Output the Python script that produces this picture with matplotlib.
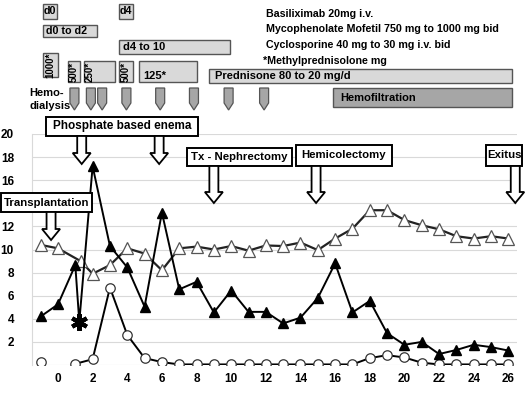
import numpy as np
import matplotlib
matplotlib.use("Agg")
import matplotlib.pyplot as plt
from matplotlib.patches import Polygon, Rectangle
from matplotlib.transforms import Affine2D

plt.rcParams['font.family'] = ['Liberation Sans', 'DejaVu Sans']
plt.rcParams['font.weight'] = 'bold'

W, H = 532, 393

# filled triangles (the asterisk sample sits between day 1 and day 2)
tri_x = [-1, 0, 1, 1.23, 2, 3, 4, 5, 6, 7, 8, 9, 10, 11, 12, 13, 14, 15, 16,
         17, 18, 19, 20, 21, 22, 23, 24, 25, 26]
tri_y = [4.2, 5.25, 8.65, 3.75, 17.2, 10.3, 8.45, 5.05, 13.2, 6.55, 7.2, 4.55,
         6.45, 4.6, 4.6, 3.6, 4.1, 5.8, 8.8, 4.55, 5.55, 2.75, 1.75, 2.0, 0.95,
         1.3, 1.75, 1.55, 1.25]
star_idx = 3

# open triangles
otri_x = [-1, 0, 1.3, 2, 3, 4, 5, 6, 7, 8, 9, 10, 11, 12, 13, 14, 15, 16, 17,
          18, 19, 20, 21, 22, 23, 24, 25, 26]
otri_y = [10.4, 10.1, 9.0, 7.9, 8.65, 10.1, 9.65, 8.2, 10.1, 10.25, 10.0, 10.3,
          9.9, 10.35, 10.3, 10.6, 9.95, 10.95, 11.8, 13.4, 13.4, 12.55, 12.1,
          11.75, 11.15, 10.95, 11.15, 10.95]

# open circles
circ_x = list(range(-1, 27))
circ_y = [0.3, np.nan, 0.1, 0.5, 6.7, 2.6, 0.6, 0.25, 0.05, 0.05, 0.05, 0.05,
          0.05, 0.05, 0.05, 0.05, 0.05, 0.05, 0.05, 0.6, 0.85, 0.65, 0.2, 0.05,
          0.05, 0.05, 0.05, 0.05]

xticks = list(range(0, 27, 2))
yticks = list(range(0, 21, 2))
hidden_yticks = [0, 14]   # 14 sits behind the "Transplantation" label

hd_days = [0.95, 1.9, 2.55, 3.95, 5.9, 7.85, 9.85, 11.9]

drug_lines = ["Basiliximab 20mg i.v.",
              "Mycophenolate Mofetil 750 mg to 1000 mg bid",
              "Cyclosporine 40 mg to 30 mg i.v. bid"]

fig = plt.figure(figsize=(W / 100, H / 100), dpi=100)
ax = fig.add_axes([32 / W, (H - 365) / H, (517 - 32) / W, (365 - 134) / H])

ax.plot(circ_x, circ_y, color='black', lw=1.4, marker='o', ms=6.8,
        mfc='white', mec='#333333', mew=0.9, zorder=3)
ax.plot(otri_x, otri_y, color='#222222', lw=1.6, marker='^', ms=8.5,
        mfc='white', mec='#555555', mew=0.9, zorder=4)
ax.plot(tri_x, tri_y, color='black', lw=1.4, zorder=5)
mx = [x for i, x in enumerate(tri_x) if i != star_idx]
my = [y for i, y in enumerate(tri_y) if i != star_idx]
ax.plot(mx, my, ls='none', marker='^', ms=7.5, color='black', zorder=6)
ax.plot(tri_x[star_idx], tri_y[star_idx], ls='none', marker=(6, 2, 0), ms=12,
        mew=3, color='black', zorder=6)

ax.set_xlim(-1.5, 26.5)
ax.set_ylim(0, 20)
ax.set_xticks(xticks)
ax.set_yticks(yticks)
ax.set_yticklabels(['' if v in hidden_yticks else str(v) for v in yticks])
ax.grid(axis='y', color='#d9d9d9', lw=0.8)
ax.set_axisbelow(True)
for s in ['top', 'right', 'bottom']:
    ax.spines[s].set_visible(False)
ax.spines['left'].set_color('#d9d9d9')
ax.tick_params(axis='y', length=0, pad=13, labelsize=8.5)
ax.tick_params(axis='x', length=0, pad=6, labelsize=8.5)

# pixel transform (origin top-left)
pix = Affine2D().scale(1 / W, -1 / H).translate(0, 1) + fig.transFigure


def dpx(d):
    return ax.transData.transform((d, 0))[0]


def box(x0, y0, x1, y1, fc, ec='#555555', lw=1.0):
    fig.add_artist(Rectangle((x0, y0), x1 - x0, y1 - y0, transform=pix,
                             fc=fc, ec=ec, lw=lw, zorder=5))


def txt(x, y, s, size=7.7, **kw):
    fig.text(x, y, s, transform=pix, fontsize=size, fontweight='bold',
             va='center', zorder=6, **kw)


def hollow_arrow(x, y0, y1):
    sw, hw, hl = 4.5, 9, 11
    pts = [(x - sw, y0), (x + sw, y0), (x + sw, y1 - hl), (x + hw, y1 - hl),
           (x, y1), (x - hw, y1 - hl), (x - sw, y1 - hl)]
    fig.add_artist(Polygon(pts, closed=True, transform=pix, fc='white',
                           ec='black', lw=1.3, zorder=5))


light = '#d9d9d9'
dark = '#a6a6a6'

# drug schedule boxes
box(43, 4, 57, 19, light)
txt(50, 11.5, 'd0', ha='center')
box(119, 4, 133, 19, light)
txt(126, 11.5, 'd4', ha='center')
box(43, 25, 97, 37, light)
txt(46, 31, 'd0 to d2')
box(119, 40, 230, 54, light)
txt(123, 47.5, 'd4 to 10', size=8)
box(43, 53, 58, 77, light)
txt(50.5, 65, '1000*', size=7, rotation=90, ha='center')
box(68, 61, 80, 82, light)
txt(74, 71.5, '500*', size=7, rotation=90, ha='center')
box(84, 61, 115, 82, light)
txt(90, 71.5, '250*', size=7, rotation=90, ha='center')
box(119, 61, 133, 82, light)
txt(126, 71.5, '500*', size=7, rotation=90, ha='center')
box(139, 61, 197, 82, light)
txt(143, 76, '125*', size=8)
box(209, 69, 512, 83, light)
txt(215, 76, 'Prednisone 80 to 20 mg/d', size=8)
box(333, 88, 512, 107, dark)
txt(340, 98, 'Hemofiltration', size=8)

for i, s in enumerate(drug_lines):
    txt(266, 14 + i * 15.5, s)
txt(263, 61.5, '*Methylprednisolone mg')

txt(29, 93, 'Hemo-', size=8)
txt(29, 106, 'dialysis', size=8)
for d in hd_days:
    x = dpx(d)
    pts = [(x - 4.5, 88), (x + 4.5, 88), (x + 4.5, 103), (x, 110), (x - 4.5, 103)]
    fig.add_artist(Polygon(pts, closed=True, transform=pix, fc=dark,
                           ec='#555555', lw=0.9, zorder=5))

# event labels with hollow arrows
box(1, 193, 92, 212, 'white', ec='black', lw=1.4)
txt(46.5, 202.5, 'Transplantation', size=8.2, ha='center')
hollow_arrow(dpx(-0.4), 212, 240)

box(46, 117, 198, 136, 'white', ec='black', lw=1.4)
txt(122, 126.5, 'Phosphate based enema', size=8.5, ha='center')
hollow_arrow(dpx(1.37), 136, 164)
hollow_arrow(dpx(5.84), 136, 164)

box(187, 148, 292, 166, 'white', ec='black', lw=1.4)
txt(239.5, 157, 'Tx - Nephrectomy', size=8.2, ha='center')
hollow_arrow(dpx(9.0), 166, 203)

box(296, 145, 392, 166, 'white', ec='black', lw=1.4)
txt(344, 155.5, 'Hemicolectomy', size=8.2, ha='center')
hollow_arrow(dpx(14.9), 166, 203)

box(486, 145, 522, 166, 'white', ec='black', lw=1.4)
txt(504, 155.5, 'Exitus', size=8.2, ha='center')
hollow_arrow(dpx(26.4), 166, 203)

fig.savefig('out.png', dpi=100)
